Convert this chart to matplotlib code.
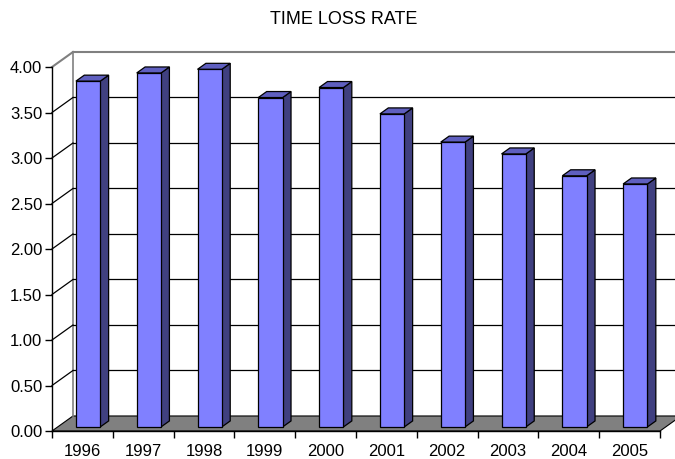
import matplotlib
matplotlib.use("Agg")
import matplotlib.pyplot as plt
from matplotlib.patches import Polygon

plt.rcParams["font.family"] = ["Liberation Sans", "DejaVu Sans"]

years = ["1996", "1997", "1998", "1999", "2000",
         "2001", "2002", "2003", "2004", "2005"]
rates = [3.80, 3.89, 3.93, 3.62, 3.73, 3.44, 3.13, 3.00, 2.76, 2.67]
y_ticks = [0.0, 0.5, 1.0, 1.5, 2.0, 2.5, 3.0, 3.5, 4.0]

FRONT, TOP, SIDE = "#8080FF", "#5F5FBF", "#404080"
DEPTH_X, DEPTH_Y = 0.345, 0.165   # depth offset of the back wall, data units
BAR_W, NEAR, FAR = 0.4, 0.27, 0.67  # bar width and its depth span (fraction)


def face(ax, pts, color, lw=0.9, z=3):
    ax.add_patch(Polygon(pts, closed=True, facecolor=color, edgecolor="black",
                         linewidth=lw, zorder=z, clip_on=False))


fig = plt.figure(figsize=(6.75, 4.59), dpi=100)
ax = fig.add_axes([52 / 675, 28 / 459, 629 / 675, 379 / 459])
ax.set_xlim(0, len(years) + DEPTH_X)
ax.set_ylim(0, y_ticks[-1] + DEPTH_Y)
ax.patch.set_visible(False)

n = len(years)
top = y_ticks[-1]

# floor
face(ax, [(0, 0), (n, 0), (n + DEPTH_X, DEPTH_Y), (DEPTH_X, DEPTH_Y)],
     "#808080", lw=0.8, z=1)

# side wall and back wall gridlines
ax.plot([DEPTH_X, DEPTH_X], [DEPTH_Y, top + DEPTH_Y], color="#808080",
        lw=1.2, zorder=1, clip_on=False)
for v in y_ticks[1:]:
    col = "#808080" if v == top else "black"
    lw = 1.5 if v == top else 0.9
    ax.plot([0, DEPTH_X], [v, v + DEPTH_Y], color=col, lw=lw, zorder=1,
            clip_on=False)
    ax.plot([DEPTH_X, n + DEPTH_X + 0.1], [v + DEPTH_Y, v + DEPTH_Y],
            color=col, lw=lw, zorder=1, clip_on=False)

# bars
ddx = (FAR - NEAR) * DEPTH_X
ddy = (FAR - NEAR) * DEPTH_Y
for i, v in enumerate(rates):
    x0 = i + 0.5 - BAR_W / 2 + NEAR * DEPTH_X
    y0 = NEAR * DEPTH_Y
    x1 = x0 + BAR_W
    face(ax, [(x1, y0), (x1 + ddx, y0 + ddy), (x1 + ddx, y0 + v + ddy),
              (x1, y0 + v)], SIDE)
    face(ax, [(x0, y0 + v), (x1, y0 + v), (x1 + ddx, y0 + v + ddy),
              (x0 + ddx, y0 + v + ddy)], TOP)
    face(ax, [(x0, y0), (x1, y0), (x1, y0 + v), (x0, y0 + v)], FRONT, z=4)

# axes
for side in ["top", "right"]:
    ax.spines[side].set_visible(False)
ax.spines["left"].set_bounds(0, top)
ax.spines["bottom"].set_bounds(0, n)
for side in ["left", "bottom"]:
    ax.spines[side].set_linewidth(1.0)
    ax.spines[side].set_zorder(5)

ax.set_yticks(y_ticks)
ax.set_yticklabels([f"{v:.2f}" for v in y_ticks])
ax.tick_params(axis="y", length=5, width=1, pad=2, labelsize=12)

ax.set_xticks(range(n + 1))
ax.set_xticklabels([])
ax.tick_params(axis="x", which="major", length=5, width=1)
ax.set_xticks([i + 0.5 for i in range(n)], minor=True)
ax.set_xticklabels(years, minor=True)
ax.tick_params(axis="x", which="minor", length=0, pad=9, labelsize=12)

fig.text(344 / 675, 1 - 19 / 459, "TIME LOSS RATE", ha="center",
         va="center", fontsize=13)

fig.savefig("out.png", dpi=100)
